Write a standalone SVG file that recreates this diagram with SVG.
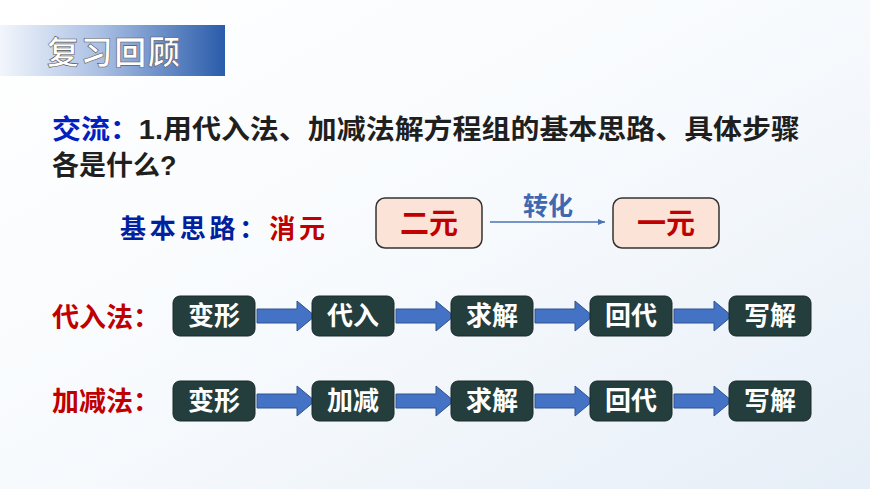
<svg xmlns="http://www.w3.org/2000/svg" width="870" height="489" viewBox="0 0 870 489">
<defs>
<linearGradient id="hd" x1="0" x2="1" y1="0" y2="0"><stop offset="0" stop-color="#f2f6fc"/><stop offset="0.45" stop-color="#a9bfe3"/><stop offset="1" stop-color="#2a5cab"/></linearGradient>
<linearGradient id="bg" x1="0" y1="0" x2="1" y2="1"><stop offset="0" stop-color="#ffffff"/><stop offset="0.5" stop-color="#f7fafd"/><stop offset="1" stop-color="#e6eef7"/></linearGradient>
<marker id="ah" markerWidth="8" markerHeight="8" refX="7" refY="4" orient="auto" markerUnits="userSpaceOnUse"><path d="M0,1 L7,4 L0,7 z" fill="#4a72b8"/></marker>
<path id="barrow" d="M0,-7 H40 V-15 L58,0 L40,15 V7 H0 z"/>
</defs>
<style>
text{font-family:"Liberation Sans","Noto Sans CJK SC",sans-serif;font-weight:bold}
.dk{fill:#243d3d;stroke:#1a2a2a;stroke-width:1}
.wt{fill:#fff;font-size:26px;text-anchor:middle}
.pk{fill:#fbe3d7;stroke:#333;stroke-width:1.5}
.rd{fill:#c00000}
.ba{fill:#4472c4;stroke:#2f528f;stroke-width:1}
</style>
<rect width="870" height="489" fill="url(#bg)"/>
<g id="header"><rect x="0" y="25" width="225" height="51" fill="url(#hd)"/><text x="47" y="64" font-size="32" fill="#fff" stroke="#555" stroke-width="0.6" font-weight="normal" textLength="133">复习回顾</text></g>
<g id="question"><text x="52" y="139" font-size="27" fill="#1f1f1f" textLength="748" lengthAdjust="spacingAndGlyphs"><tspan fill="#0020c0">交流：</tspan>1.用代入法、加减法解方程组的基本思路、具体步骤</text><text x="52" y="175" font-size="27" fill="#1f1f1f">各是什么?</text></g>
<g id="idea"><text x="120" y="238" font-size="26" fill="#0020a0" textLength="205">基本思路：<tspan fill="#c00000">消元</tspan></text></g>
<g id="n-er"><rect class="pk" x="376" y="198" width="106" height="50" rx="9"/><text class="rd" x="429" y="234" font-size="29" text-anchor="middle">二元</text></g>
<g id="n-yi"><rect class="pk" x="613" y="198" width="106" height="50" rx="9"/><text class="rd" x="666" y="234" font-size="29" text-anchor="middle">一元</text></g>
<g id="connectors">
<line x1="490" y1="222" x2="605" y2="222" stroke="#4a72b8" stroke-width="1.5" marker-end="url(#ah)"/>
<text x="548" y="215" font-size="25" fill="#3f68b0" text-anchor="middle" font-weight="normal">转化</text>
<use href="#barrow" class="ba" x="257" y="316"/><use href="#barrow" class="ba" x="396" y="316"/><use href="#barrow" class="ba" x="535" y="316"/><use href="#barrow" class="ba" x="674" y="316"/>
<use href="#barrow" class="ba" x="257" y="401"/><use href="#barrow" class="ba" x="396" y="401"/><use href="#barrow" class="ba" x="535" y="401"/><use href="#barrow" class="ba" x="674" y="401"/>
</g>
<g id="label1"><text class="rd" x="52" y="327" font-size="27">代入法：</text></g>
<g id="label2"><text class="rd" x="52" y="411" font-size="27">加减法：</text></g>
<g id="r1-1"><rect class="dk" x="173" y="296" width="82" height="40" rx="7"/><text class="wt" x="214" y="325">变形</text></g>
<g id="r1-2"><rect class="dk" x="312" y="296" width="82" height="40" rx="7"/><text class="wt" x="353" y="325">代入</text></g>
<g id="r1-3"><rect class="dk" x="451" y="296" width="82" height="40" rx="7"/><text class="wt" x="492" y="325">求解</text></g>
<g id="r1-4"><rect class="dk" x="590" y="296" width="82" height="40" rx="7"/><text class="wt" x="631" y="325">回代</text></g>
<g id="r1-5"><rect class="dk" x="729" y="296" width="82" height="40" rx="7"/><text class="wt" x="770" y="325">写解</text></g>
<g id="r2-1"><rect class="dk" x="173" y="381" width="82" height="40" rx="7"/><text class="wt" x="214" y="410">变形</text></g>
<g id="r2-2"><rect class="dk" x="312" y="381" width="82" height="40" rx="7"/><text class="wt" x="353" y="410">加减</text></g>
<g id="r2-3"><rect class="dk" x="451" y="381" width="82" height="40" rx="7"/><text class="wt" x="492" y="410">求解</text></g>
<g id="r2-4"><rect class="dk" x="590" y="381" width="82" height="40" rx="7"/><text class="wt" x="631" y="410">回代</text></g>
<g id="r2-5"><rect class="dk" x="729" y="381" width="82" height="40" rx="7"/><text class="wt" x="770" y="410">写解</text></g>
</svg>
